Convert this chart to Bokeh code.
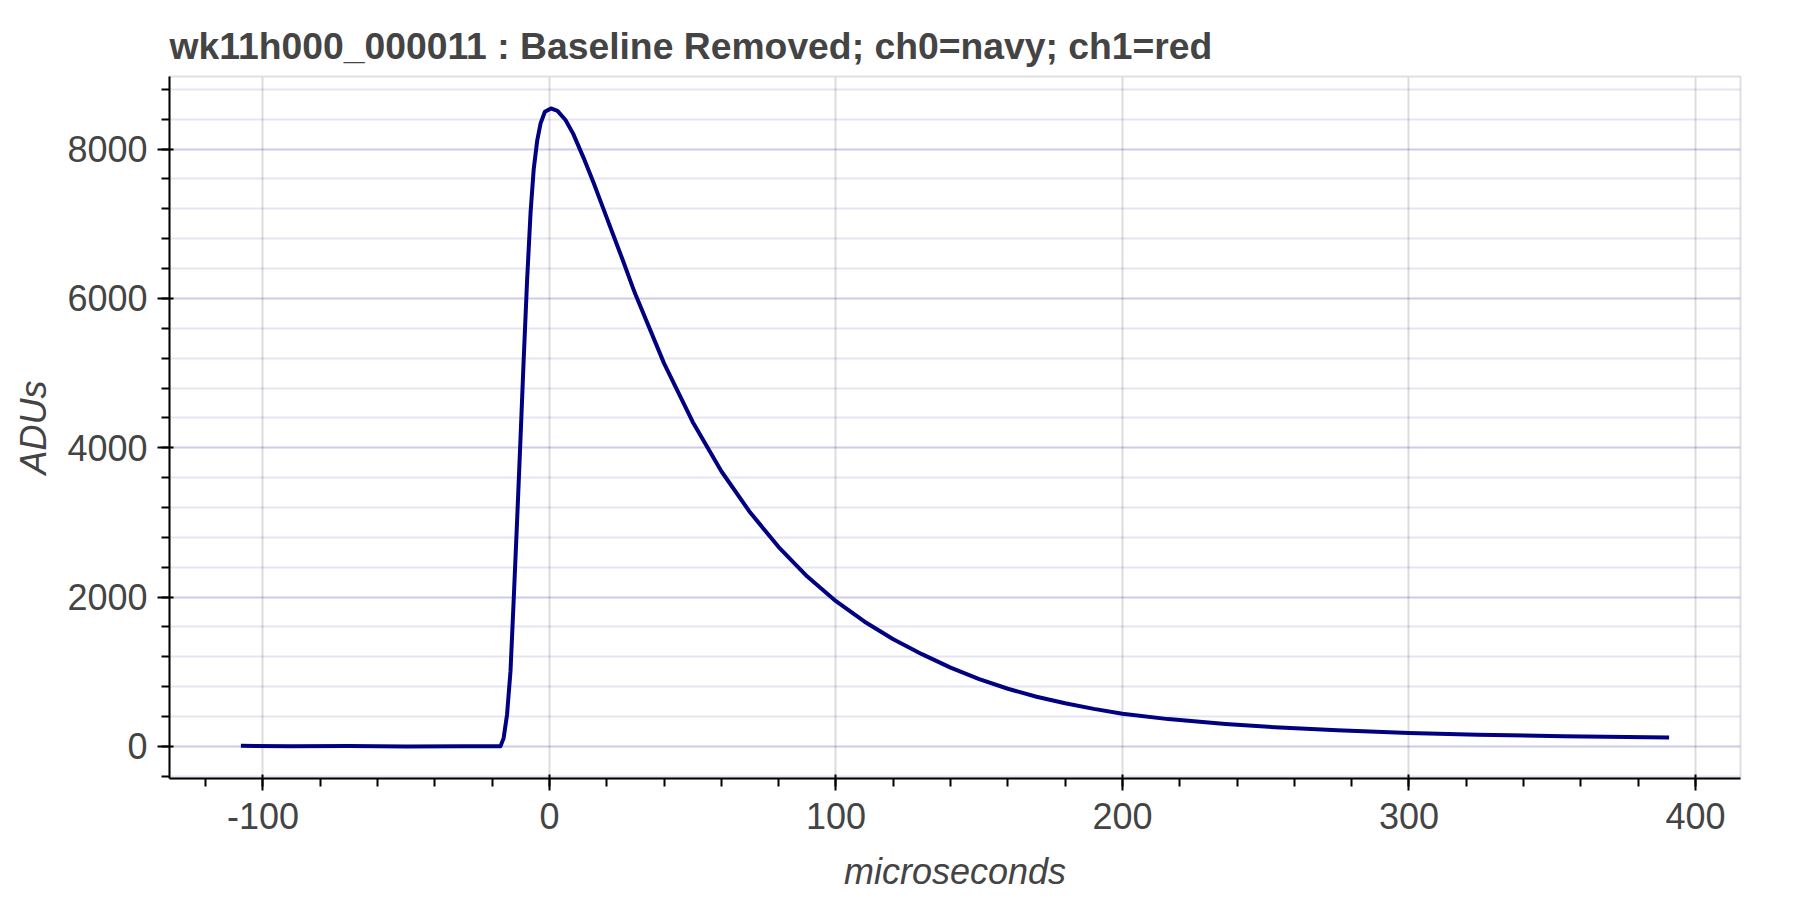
from bokeh.plotting import figure
from bokeh.embed import file_html
from bokeh.resources import INLINE
from bokeh.models import PrintfTickFormatter

# ---- data ----
time_us = [-107.7, -90.0, -70.0, -50.0, -30.0, -17.1, -16.0, -14.8, -13.6, -12.5, -11.3,
           -10.1, -9.0, -7.8, -6.6, -5.5, -4.3, -3.1, -1.6, 0.5, 2.8, 5.6, 8.3,
           11.8, 15.3, 18.8, 22.3, 25.8, 29.2, 30.0, 40.0, 50.0, 60.0, 70.0,
           80.0, 90.0, 100.0, 110.0, 120.0, 130.0, 140.0, 150.0, 160.0, 170.0,
           180.0, 190.0, 200.0, 216.0, 236.0, 255.0, 275.0, 300.0, 324.0,
           354.0, 390.8]
ch0_adu = [8, 0, 5, -3, 2, 0, 110, 428, 1007, 1950, 3020,
           4130, 5180, 6250, 7150, 7730, 8110, 8345, 8500, 8545, 8512, 8390, 8204,
           7893, 7559, 7203, 6847, 6491, 6135, 6055, 5130, 4345, 3685, 3135,
           2670, 2275, 1945, 1670, 1435, 1235, 1055, 900, 772, 665,
           578, 502, 437, 365, 300, 252, 215, 180, 156,
           135, 120]

title_text = "wk11h000_000011 : Baseline Removed; ch0=navy; ch1=red"
x_label = "microseconds"
y_label = "ADUs"

FONT = "Liberation Sans"

p = figure(width=1790, height=896, output_backend="svg", toolbar_location=None,
           title=title_text, x_axis_label=x_label, y_axis_label=y_label,
           min_border_left=169, min_border_top=76, min_border_right=50,
           min_border_bottom=118)

p.line(time_us, ch0_adu, line_color="navy", line_width=4, line_join="round")

# title
p.title.text_font = FONT
p.title.text_font_size = "37.3px"
p.title.text_font_style = "bold"
p.title.text_color = "#444444"
p.title.standoff = 20

# axes
for ax in (p.xaxis[0], p.yaxis[0]):
    ax.axis_line_width = 2
    ax.major_tick_line_width = 2
    ax.minor_tick_line_width = 2
    ax.major_tick_out = 12
    ax.major_tick_in = 4
    ax.minor_tick_out = 8
    ax.minor_tick_in = 0
    ax.major_label_text_font = FONT
    ax.major_label_text_font_size = "36px"
    ax.major_label_text_color = "#444444"
    ax.axis_label_text_font = FONT
    ax.axis_label_text_font_size = "36px"
    ax.axis_label_text_font_style = "italic"
    ax.axis_label_text_color = "#444444"
p.xaxis.major_label_standoff = 12
p.yaxis.major_label_standoff = 10
p.xaxis.axis_label_standoff = 19
p.yaxis.axis_label_standoff = 10
p.xaxis.formatter = PrintfTickFormatter(format="%d")
p.yaxis.formatter = PrintfTickFormatter(format="%d")

# grids
p.xgrid.grid_line_color = "#dcdce0"
p.xgrid.grid_line_width = 2
p.ygrid.grid_line_color = "navy"
p.ygrid.grid_line_alpha = 0.1
p.ygrid.grid_line_width = 2
p.ygrid.minor_grid_line_color = "navy"
p.ygrid.minor_grid_line_alpha = 0.1
p.ygrid.minor_grid_line_width = 2

p.outline_line_color = "#e0e0e0"
p.outline_line_width = 2

open("out.html", "w").write(file_html(p, INLINE))
